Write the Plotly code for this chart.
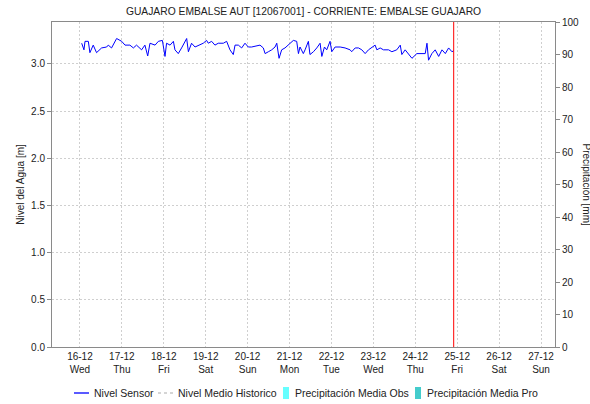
import pandas as pd
import plotly.graph_objects as go

# Nivel del sensor: horas desde 16-12-2020 00:00 y nivel [m]
horas = [1, 1.5, 2.3, 2.9, 4.8, 5.7, 7.6, 9.5, 12.4, 15.3, 16.2, 18.1, 21, 23.9,
         25.8, 28.6, 30.6, 32.4, 35.3, 37.2, 38.8, 40.1, 43, 44.9, 47.2, 48.7,
         49.6, 51.6, 53.5, 54.4, 56.3, 58.2, 61.1, 62.1, 63.9, 65.9, 68.7, 70.6,
         72.5, 73.5, 75.4, 77.3, 79.2, 82.1, 84, 85.9, 87.8, 88.8, 90.7, 92.6,
         94.5, 96.4, 98.3, 101.2, 103.1, 105, 106.0, 107.9, 109.8, 111.7, 112.7,
         114.0, 115.5, 117.4, 120.3, 122.2, 124.1, 125.1, 126.0, 127.9, 128.9,
         130.8, 131.7, 133.7, 135.6, 136.5, 137.5, 138.5, 140.0, 141.3, 143.2,
         144.2, 146.1, 149.0, 151.8, 154.7, 155.6, 157.6, 159.5, 161.4, 163.3,
         165.2, 167.1, 169.0, 170.0, 171.9, 173.8, 176.7, 178.6, 181.4, 183.4,
         184.3, 186.2, 188.1, 190.1, 192.9, 195.8, 197.7, 198.7, 199.6, 201.5,
         203.4, 205.4, 207.3, 209.2, 211.1, 213.0, 214.0]
nivel = [3.22, 3.20, 3.15, 3.24, 3.24, 3.12, 3.20, 3.12, 3.17, 3.18, 3.20, 3.17,
         3.27, 3.24, 3.20, 3.20, 3.17, 3.20, 3.15, 3.20, 3.085, 3.22, 3.20, 3.24,
         3.25, 3.08, 3.22, 3.20, 3.24, 3.15, 3.11, 3.17, 3.27, 3.13, 3.22, 3.18,
         3.20, 3.22, 3.25, 3.22, 3.24, 3.20, 3.22, 3.22, 3.24, 3.15, 3.10, 3.20,
         3.20, 3.17, 3.22, 3.18, 3.18, 3.19, 3.20, 3.17, 3.11, 3.13, 3.15, 3.18,
         3.22, 3.06, 3.15, 3.17, 3.22, 3.25, 3.24, 3.11, 3.18, 3.11, 3.15, 3.24,
         3.10, 3.13, 3.17, 3.20, 3.22, 3.08, 3.18, 3.15, 3.24, 3.13, 3.18, 3.18,
         3.17, 3.15, 3.13, 3.17, 3.17, 3.15, 3.11, 3.15, 3.18, 3.20, 3.15, 3.17,
         3.15, 3.15, 3.13, 3.15, 3.20, 3.10, 3.15, 3.11, 3.06, 3.11, 3.11, 3.11,
         3.22, 3.04, 3.11, 3.15, 3.08, 3.15, 3.11, 3.17, 3.13, 3.14]

inicio = pd.Timestamp("2020-12-16 00:00")
fechas = [inicio + pd.Timedelta(hours=h) for h in horas]

# Hora actual (linea roja) y ventana de tiempo del grafico
hora_actual = "2020-12-24 22:00"
rango_x = ["2020-12-15 08:00", "2020-12-27 08:00"]

titulo = "GUAJARO EMBALSE AUT [12067001] - CORRIENTE: EMBALSE GUAJARO"
series_leyenda = ["Nivel Sensor", "Nivel Medio Historico",
                  "Precipitación Media Obs", "Precipitación Media Pro"]

fuente = "Liberation Sans, Arial, sans-serif"
texto = "#222222"
gris_eje = "#8a8a8a"
gris_grid = "#cfcfcf"

# Geometria del area de trazado (px)
W, H = 590, 404
ML, MR, MT, MB = 52, 35, 22, 57
PW, PH = W - ML - MR, H - MT - MB


def px_x(p):
    return (p - ML) / PW


def px_y(p):
    return (H - MB - p) / PH


fig = go.Figure()
fig.add_trace(go.Scatter(x=fechas, y=nivel, mode="lines", name=series_leyenda[0],
                         line=dict(color="#0000ff", width=1), showlegend=False))
# eje secundario de precipitacion (sin datos en el periodo)
fig.add_trace(go.Bar(x=[None], y=[None], name=series_leyenda[2],
                     marker_color="#66ffff", yaxis="y2", showlegend=False))

fig.add_shape(type="line", xref="x", yref="paper", x0=hora_actual, x1=hora_actual,
              y0=0, y1=1, line=dict(color="#ff0000", width=1))

# Leyenda inferior dibujada a mano
ly = 393
simbolos = [
    ("linea", 74, "#0000ff", "solid"),
    ("linea", 158, "#c8c8c8", "3px,3px"),
    ("caja", 283, "#66ffff", None),
    ("caja", 415, "#44cccc", None),
]
for (tipo, x0, color, dash), nombre in zip(simbolos, series_leyenda):
    if tipo == "linea":
        fig.add_shape(type="line", xref="paper", yref="paper",
                      x0=px_x(x0), x1=px_x(x0 + 15), y0=px_y(ly), y1=px_y(ly),
                      line=dict(color=color, width=1.5 if dash != "solid" else 1.3,
                                dash=dash))
        tx = x0 + 18
    else:
        fig.add_shape(type="rect", xref="paper", yref="paper",
                      x0=px_x(x0), x1=px_x(x0 + 6), y0=px_y(ly + 6), y1=px_y(ly - 6),
                      line=dict(width=0), fillcolor=color)
        tx = x0 + 10
    fig.add_annotation(text=nombre, xref="paper", yref="paper", x=px_x(tx),
                       y=px_y(ly), xanchor="left", yanchor="middle", showarrow=False,
                       font=dict(family=fuente, size=10.5, color=texto))

fig.update_layout(
    width=W, height=H,
    margin=dict(l=ML, r=MR, t=MT, b=MB),
    paper_bgcolor="white", plot_bgcolor="white",
    font=dict(family=fuente, size=10, color=texto),
    title=dict(text=titulo, x=0.5, xref="paper", y=0.972, yanchor="middle",
               font=dict(family=fuente, size=10.3, color=texto)),
    showlegend=False,
    xaxis=dict(type="date", range=rango_x, tick0="2020-12-16", dtick=86400000,
               tickformat="%d-%m<br>%a", showgrid=True, gridcolor=gris_grid,
               griddash="2px,2px", gridwidth=1, showline=True, linecolor=gris_eje,
               linewidth=1, mirror=True, ticks="", zeroline=False,
               tickfont=dict(size=10)),
    yaxis=dict(range=[0, 3.445], tick0=0, dtick=0.5, tickformat=".1f",
               showgrid=True, gridcolor=gris_grid, griddash="2px,2px",
               showline=True, linecolor=gris_eje, ticks="outside", ticklen=4,
               tickcolor=gris_eje, zeroline=False,
               title=dict(text="Nivel del Agua [m]", standoff=4,
                          font=dict(size=10))),
    yaxis2=dict(range=[0, 100], dtick=10, overlaying="y", side="right",
                showgrid=False, showline=True, linecolor=gris_eje,
                ticks="outside", ticklen=4, tickcolor=gris_eje, zeroline=False),
)

fig.add_annotation(text="Precipitación [mm]", xref="paper", yref="paper",
                   x=1.0, xshift=31, xanchor="center", y=0.5, textangle=90,
                   showarrow=False, font=dict(family=fuente, size=10, color=texto))

fig.write_html("out.html")
